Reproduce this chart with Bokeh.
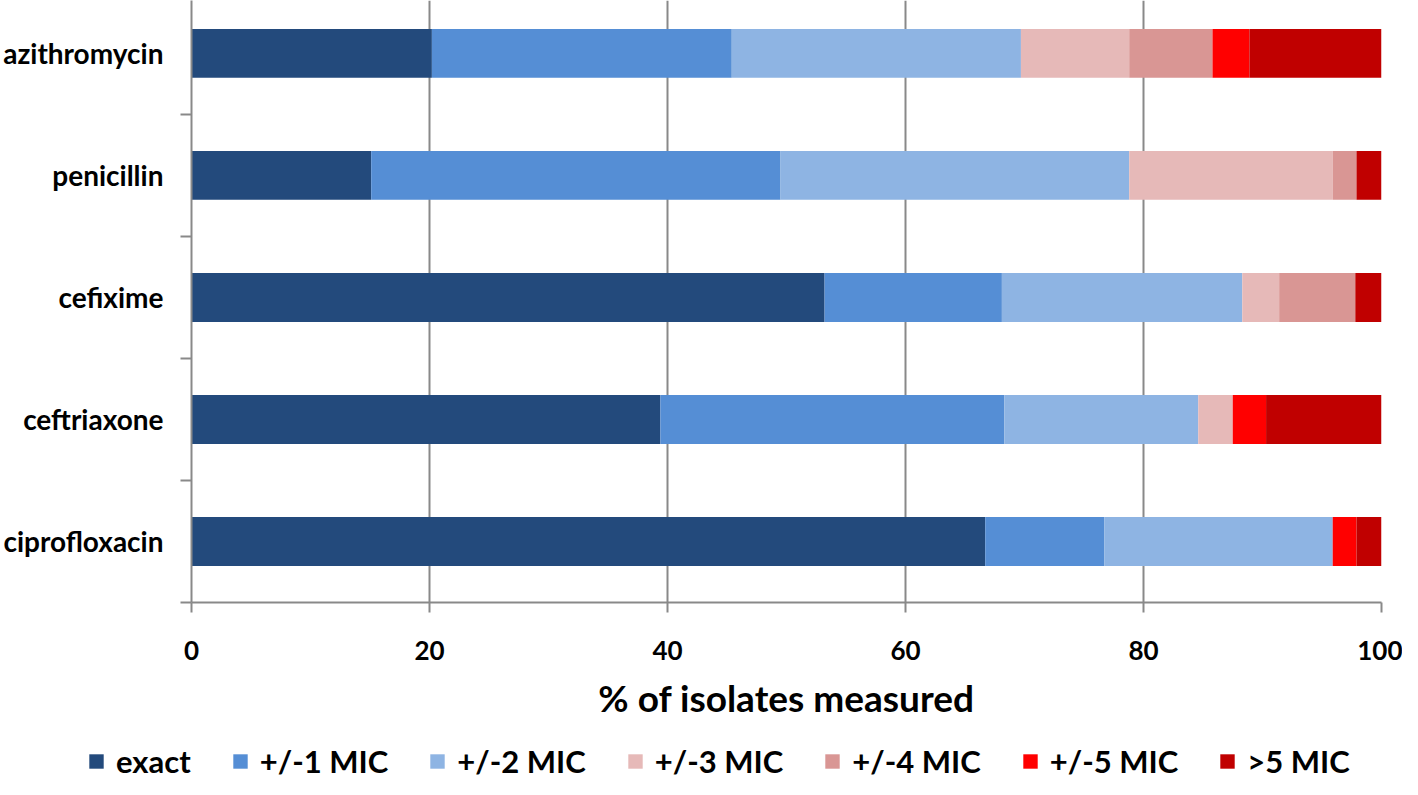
from bokeh.plotting import figure
from bokeh.models import ColumnDataSource, Range1d, FixedTicker, Legend, LegendItem
from bokeh.layouts import column
from bokeh.embed import file_html
from bokeh.resources import INLINE

categories = ["azithromycin", "penicillin", "cefixime", "ceftriaxone", "ciprofloxacin"]
series = ["exact", "+/-1 MIC", "+/-2 MIC", "+/-3 MIC", "+/-4 MIC", "+/-5 MIC", ">5 MIC"]
exact = [20.2, 15.1, 53.2, 39.4, 66.7]
mic1 = [25.2, 34.4, 14.9, 28.9, 10.0]
mic2 = [24.3, 29.3, 20.2, 16.3, 19.2]
mic3 = [9.1, 17.1, 3.1, 2.9, 0.0]
mic4 = [7.0, 2.0, 6.4, 0.0, 0.0]
mic5 = [3.1, 0.0, 0.0, 2.8, 2.0]
gt5 = [11.1, 2.1, 2.2, 9.7, 2.1]
colors = ["#234a7c", "#558ed5", "#8eb4e3", "#e6b9b8", "#d99694", "#ff0000", "#c00000"]
xticks = [0, 20, 40, 60, 80, 100]

n = len(categories)
ypos = [n - i - 0.5 for i in range(n)]
keys = ["s%d" % i for i in range(len(series))]
data = dict(y=ypos, cat=categories)
for k, vals in zip(keys, [exact, mic1, mic2, mic3, mic4, mic5, gt5]):
    data[k] = vals
source = ColumnDataSource(data)

FONT = "Lato"
GRAY = "#898989"

p = figure(width=1402, height=743, output_backend="svg", toolbar_location=None,
           x_range=Range1d(0, 100), y_range=Range1d(0, 4.934),
           min_border_left=188, min_border_right=21, min_border_top=0, min_border_bottom=141)
p.outline_line_color = None
p.background_fill_color = "white"
p.frame_align = False

renderers = p.hbar_stack(keys, y="y", height=0.4, color=colors, line_color=None, source=source)

# x axis
p.xaxis.ticker = FixedTicker(ticks=xticks, minor_ticks=[])
p.xaxis.axis_line_color = GRAY
p.xaxis.axis_line_width = 2
p.xaxis.major_tick_line_color = GRAY
p.xaxis.major_tick_line_width = 2
p.xaxis.major_tick_out = 10
p.xaxis.major_tick_in = 0
p.xaxis.major_label_text_font = FONT
p.xaxis.major_label_text_font_style = "bold"
p.xaxis.major_label_text_font_size = "26px"
p.xaxis.major_label_text_color = "black"
p.xaxis.major_label_standoff = 28
p.xaxis.axis_label = "% of isolates measured"
p.xaxis.axis_label_text_font = FONT
p.xaxis.axis_label_text_font_style = "bold"
p.xaxis.axis_label_text_font_size = "37px"
p.xaxis.axis_label_text_color = "black"
p.xaxis.axis_label_standoff = 12

# y axis: labels at centres, tick marks between categories
label_map = {y: c for y, c in zip(ypos, categories)}
p.yaxis.ticker = FixedTicker(ticks=ypos, minor_ticks=[float(i) for i in range(n + 1)])
p.yaxis.major_label_overrides = label_map
p.yaxis.axis_line_color = GRAY
p.yaxis.axis_line_width = 2
p.yaxis.major_tick_line_color = None
p.yaxis.major_tick_out = 0
p.yaxis.major_tick_in = 0
p.yaxis.minor_tick_line_color = GRAY
p.yaxis.minor_tick_line_width = 2
p.yaxis.minor_tick_out = 11
p.yaxis.minor_tick_in = 0
p.yaxis.major_label_text_font = FONT
p.yaxis.major_label_text_font_style = "bold"
p.yaxis.major_label_text_font_size = "28px"
p.yaxis.major_label_text_color = "black"
p.yaxis.major_label_standoff = 17

p.xgrid.ticker = FixedTicker(ticks=xticks[1:])
p.xgrid.grid_line_color = GRAY
p.xgrid.grid_line_width = 2
p.ygrid.grid_line_color = None

# legend strip below the chart (hidden copies of the series supply the legend swatches)
pl = figure(width=1402, height=36, output_backend="svg", toolbar_location=None,
            x_range=Range1d(0, 100), y_range=Range1d(0, 5), x_axis_type=None, y_axis_type=None,
            min_border_left=0, min_border_right=0, min_border_top=0, min_border_bottom=0)
pl.outline_line_color = None
pl.frame_align = False
pl.xgrid.visible = False
pl.ygrid.visible = False
legend_renderers = pl.hbar_stack(keys, y="y", height=0.4, color=colors, line_color=None,
                                 source=source)
for r in legend_renderers:
    r.visible = False
items = [LegendItem(label=s, renderers=[r]) for s, r in zip(series, legend_renderers)]
legend = Legend(items=items, orientation="horizontal", location="left",
                border_line_color=None, background_fill_alpha=0,
                inactive_fill_alpha=0,
                label_text_font=FONT, label_text_font_style="bold",
                label_text_font_size="31px", label_text_color="black",
                glyph_width=18, glyph_height=18, label_standoff=11, spacing=40,
                margin=87, padding=0)
pl.add_layout(legend, "center")

layout = column(p, pl, spacing=0)
open("out.html", "w").write(file_html(layout, INLINE))
